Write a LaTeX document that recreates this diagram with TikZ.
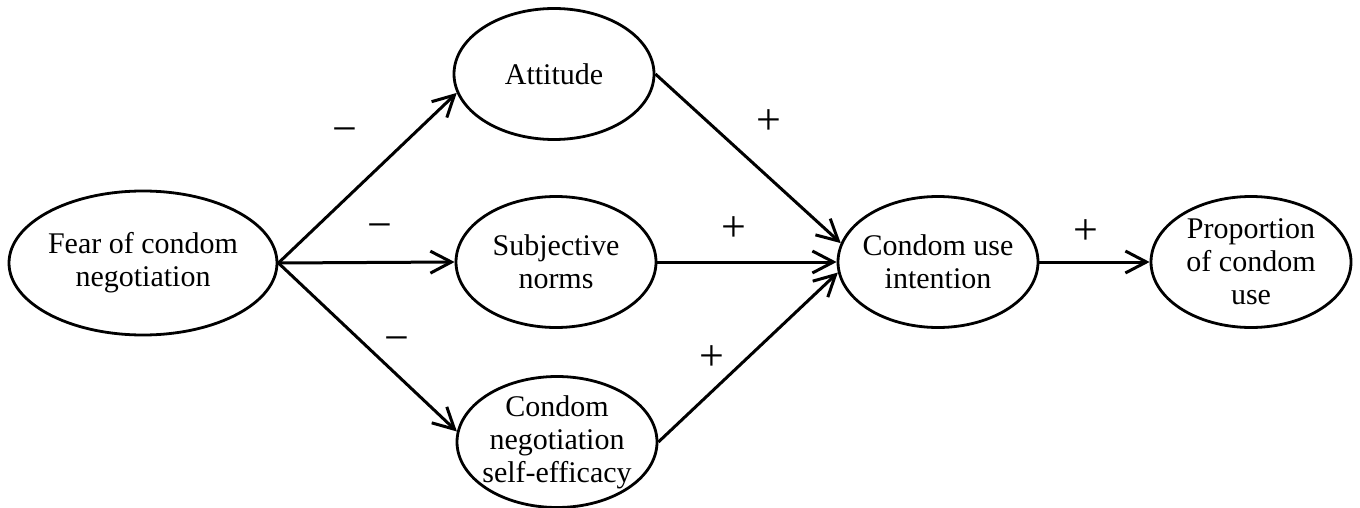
\documentclass[tikz,border=0pt]{standalone}
\usepackage{fontspec}
\setmainfont{Liberation Serif}
\usetikzlibrary{arrows.meta}
\usetikzlibrary{shapes.geometric}

\begin{document}
\begin{tikzpicture}[x=0.5pt,y=-0.5pt,
	construct/.style={draw,ellipse,line width=1.4pt,inner sep=-4pt,
		minimum width=100pt,minimum height=65.5pt,align=center,
		font=\fontsize{15}{16.5}\selectfont},
	effect/.style={line width=1.5pt,-{Straight Barb[length=10.5pt,width=11pt]}},
	sign/.style={inner sep=0pt,font=\fontsize{22}{22}\selectfont}]
				  \useasboundingbox (0,0) rectangle (1360,508);
				  % constructs
				  \node[construct,minimum width=134pt,minimum height=72pt] (fear) at (143,263) {Fear of condom\\negotiation};
				  \node[construct] (att) at (554,74) {Attitude};
				  \node[construct] (norms) at (556,262) {Subjective\\norms};
				  \node[construct] (eff) at (557,442) {Condom\\negotiation\\self-efficacy};
				  \node[construct] (intent) at (938,262) {Condom use\\intention};
				  \node[construct] (prop) at (1251,262) {Proportion\\of condom\\use};
				  % paths
				  \draw[effect] (fear.east) -- (att.191);
				  \draw[effect] (fear.east) -- (norms.west);
				  \draw[effect] (fear.east) -- (eff.174);
				  \draw[effect] (att.east) -- (intent.169);
				  \draw[effect] (norms.east) -- (intent.west);
				  \draw[effect] (eff.east) -- (intent.186);
				  \draw[effect] (intent.east) -- (prop.west);
				  % signs
				  \foreach \nm/\x/\y/\s in {m1/345/136/−,m2/380/232/−,m3/397/345/−,
				                             p1/769/122/+,p2/734/229/+,p3/712/358/+,p4/1086/232/+}
				     \node[sign] (\nm) at (\x,\y) {\s};
				\end{tikzpicture}
\end{document}
